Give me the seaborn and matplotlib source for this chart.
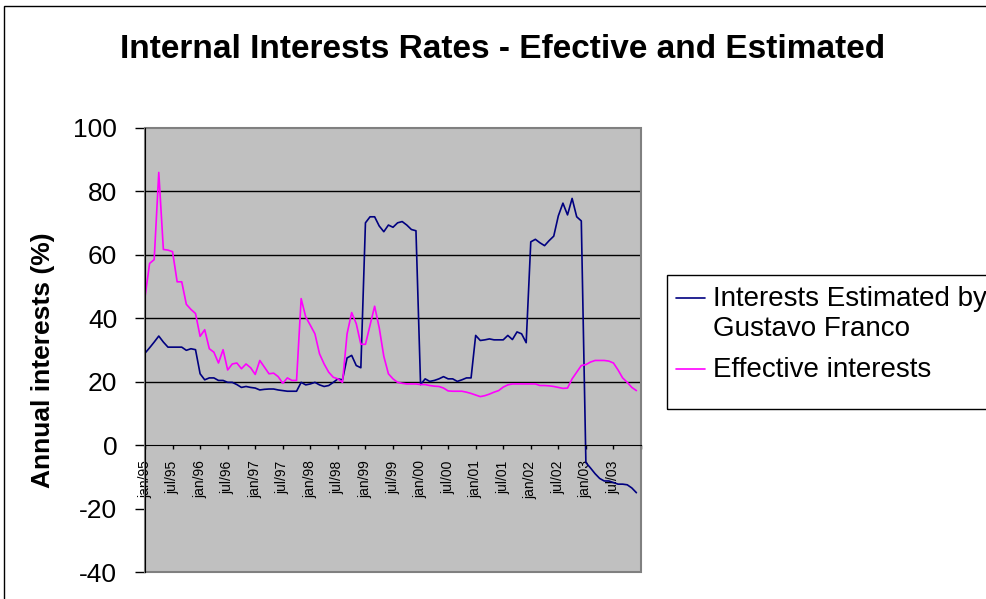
# Internal interest rates - effective vs estimated (jan/95 - dec/03, monthly)
import numpy as np
import pandas as pd
import matplotlib.pyplot as plt
from matplotlib.patches import Rectangle
from matplotlib.lines import Line2D
import seaborn as sns

# Data (% per year)
estimated = [29.0, 30.7, 32.5, 34.4, 32.5, 30.9, 30.9, 30.9, 30.9, 29.9, 30.4, 30.1,
             22.5, 20.6, 21.2, 21.2, 20.4, 20.4, 19.8, 19.8, 19.1, 18.2, 18.5, 18.2,
             18.0, 17.4, 17.6, 17.7, 17.7, 17.4, 17.2, 17.0, 17.0, 17.0, 19.8, 19.0,
             19.3, 19.8, 19.0, 18.5, 18.8, 19.8, 20.9, 20.6, 27.5, 28.3, 25.1, 24.4,
             70.1, 72.0, 72.0, 69.1, 67.3, 69.4, 68.7, 70.1, 70.5, 69.4, 68.0, 67.6,
             19.1, 20.9, 20.1, 20.4, 20.9, 21.6, 20.9, 20.9, 20.1, 20.6, 21.2, 21.2,
             34.6, 33.0, 33.2, 33.5, 33.2, 33.2, 33.2, 34.6, 33.3, 35.7, 35.1, 32.3,
             64.1, 64.9, 63.8, 62.9, 64.5, 65.9, 72.3, 76.3, 72.6, 77.8, 72.0, 70.7,
             -5.5, -7.2, -9.0, -10.5, -11.3, -11.3, -11.8, -12.3, -12.3, -12.5, -13.5, -15.0]

effective = [46.7, 57.3, 58.5, 86.0, 61.7, 61.5, 61.0, 51.5, 51.5, 44.4, 42.8, 41.5,
             34.3, 36.4, 30.4, 29.3, 25.9, 30.1, 23.7, 25.6, 25.9, 24.1, 25.6, 24.4,
             22.3, 26.7, 24.6, 22.5, 22.7, 21.6, 19.5, 21.2, 20.4, 20.4, 46.2, 40.4,
             37.8, 35.1, 28.8, 25.6, 23.0, 21.4, 20.9, 19.8, 35.1, 41.8, 38.3, 31.8,
             31.8, 37.8, 43.8, 37.0, 28.0, 22.5, 20.9, 19.8, 19.5, 19.3, 19.3, 19.3,
             19.1, 19.1, 18.8, 18.6, 18.5, 18.0, 17.1, 17.0, 17.0, 17.0, 16.7, 16.3,
             15.8, 15.3, 15.6, 16.1, 16.7, 17.2, 18.3, 19.0, 19.3, 19.3, 19.3, 19.3,
             19.3, 19.3, 18.8, 18.8, 18.7, 18.5, 18.2, 17.9, 18.0, 20.9, 23.0, 25.1,
             25.4, 26.2, 26.7, 26.7, 26.7, 26.5, 25.9, 23.7, 21.2, 19.8, 18.2, 17.2]

tick_labels = ['jan/95', 'jul/95', 'jan/96', 'jul/96', 'jan/97', 'jul/97',
               'jan/98', 'jul/98', 'jan/99', 'jul/99', 'jan/00', 'jul/00',
               'jan/01', 'jul/01', 'jan/02', 'jul/02', 'jan/03', 'jul/03']
y_ticks = [-40, -20, 0, 20, 40, 60, 80, 100]
grid_levels = [20, 40, 60, 80]

series_names = ['Interests Estimated by\nGustavo Franco', 'Effective interests']
colors = ['#000080', '#FF00FF']

df = pd.DataFrame({'month': np.arange(len(estimated)),
                   series_names[0]: estimated,
                   series_names[1]: effective})
long_df = df.melt(id_vars='month', var_name='series', value_name='rate')

sns.set_style('white')
plt.rcParams['font.family'] = ['Liberation Sans', 'DejaVu Sans']
plt.rcParams['text.color'] = 'black'
plt.rcParams['xtick.color'] = 'black'
plt.rcParams['ytick.color'] = 'black'
plt.rcParams['axes.labelcolor'] = 'black'

fig = plt.figure(figsize=(9.87, 5.99), dpi=100)
ax = fig.add_axes([145 / 987, 1 - 572 / 599, 496 / 987, 444 / 599])
ax.set_facecolor('#C0C0C0')

for y in grid_levels:
    ax.axhline(y, color='black', lw=1, zorder=1)

sns.lineplot(data=long_df, x='month', y='rate', hue='series',
             palette=dict(zip(series_names, colors)), lw=1.2,
             legend=False, ax=ax, zorder=3)

ax.set_xlim(0, 108)
ax.set_ylim(-40, 100)
ax.set_xlabel('')
ax.set_ylabel('')

# category axis crosses at 0
ax.spines['bottom'].set_position(('data', 0))
for s in ['top', 'right']:
    ax.spines[s].set_visible(False)
ax.spines['left'].set_color('black')
ax.spines['bottom'].set_color('black')
ax.spines['left'].set_zorder(4)
ax.spines['bottom'].set_zorder(4)

ax.set_xticks(np.arange(0, 109, 6))
ax.set_xticklabels(tick_labels + [''], rotation=90, fontsize=10)
ax.tick_params(axis='x', direction='out', length=3, width=1, pad=8,
               color='black', labelcolor='black')
ax.set_yticks(y_ticks)
ax.set_yticklabels([str(v) for v in y_ticks], fontsize=19)
ax.tick_params(axis='y', direction='out', length=7, width=1, pad=13,
               color='black', labelcolor='black')
ax.tick_params(left=True, bottom=True)

# plot area border
ax.add_patch(Rectangle((0, 0), 1, 1, transform=ax.transAxes, fill=False,
                       edgecolor='#808080', lw=1.5, zorder=2, clip_on=False))

# outer chart border (cut off on the right and bottom)
fig.add_artist(Rectangle((4 / 987, -0.1), 1.2, 1.1 - 6.5 / 599, transform=fig.transFigure,
                         fill=False, edgecolor='black', lw=1))

fig.text(503 / 987, 1 - 49 / 599, 'Internal Interests Rates - Efective and Estimated',
         ha='center', va='center', fontsize=24, fontweight='bold', color='black')
fig.text(43 / 987, 1 - 360 / 599, 'Annual interests (%)', rotation=90,
         ha='center', va='center', fontsize=19, fontweight='bold', color='black')

# legend box
fig.add_artist(Rectangle((667 / 987, 1 - 409 / 599), 0.5, 134 / 599, transform=fig.transFigure,
                         fill=False, edgecolor='black', lw=1))
for name, col, yl in zip(series_names, colors, [298, 369]):
    fig.add_artist(Line2D([676 / 987, 705 / 987], [1 - yl / 599] * 2,
                          transform=fig.transFigure, color=col, lw=1.2))
    fig.text(713 / 987, 1 - (yl - 12) / 599, name, ha='left', va='top',
             fontsize=20, linespacing=1.2, color='black')

fig.savefig('out.png', dpi=100)
